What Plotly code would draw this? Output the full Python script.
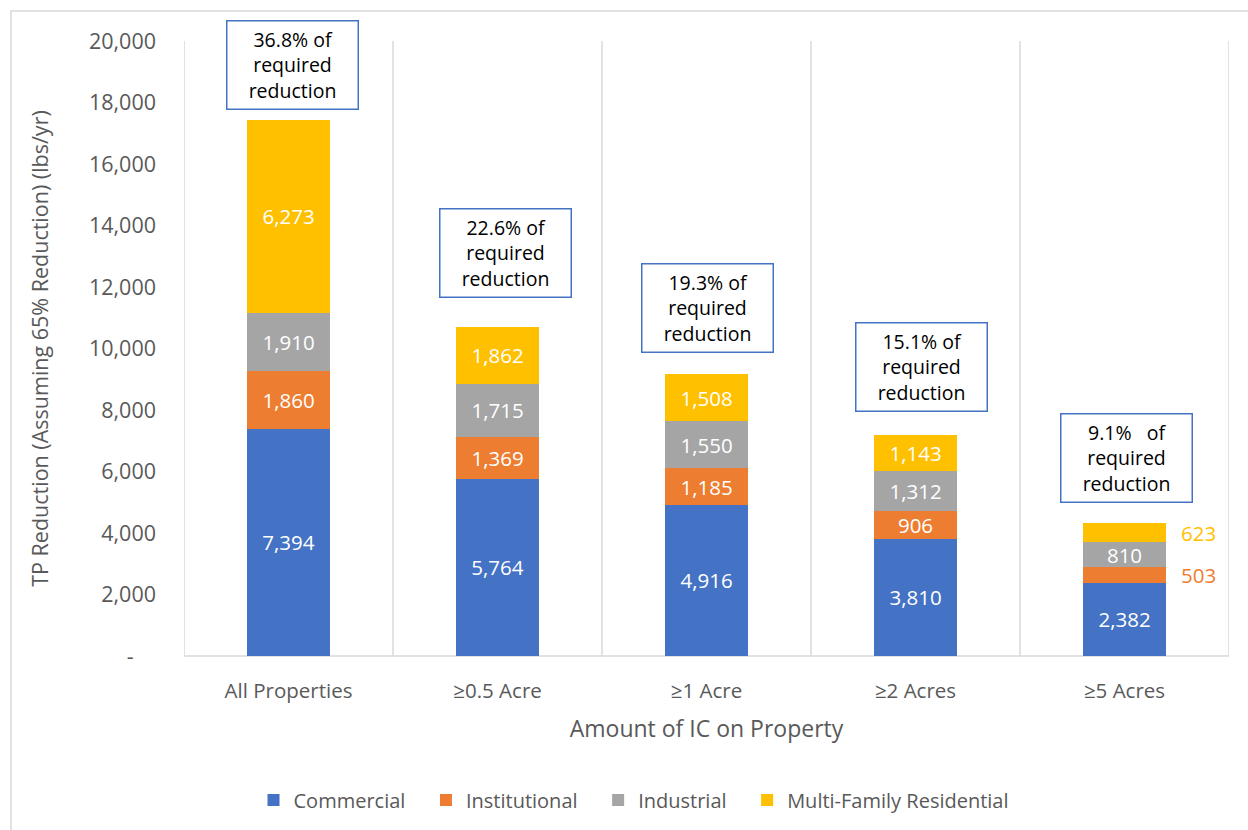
import plotly.graph_objects as go

categories = ["All Properties", "≥0.5 Acre", "≥1 Acre", "≥2 Acres", "≥5 Acres"]
commercial = [7394, 5764, 4916, 3810, 2382]
institutional = [1860, 1369, 1185, 906, 503]
industrial = [1910, 1715, 1550, 1312, 810]
multifamily = [6273, 1862, 1508, 1143, 623]
pct_labels = ["36.8% of<br>required<br>reduction", "22.6% of<br>required<br>reduction",
              "19.3% of<br>required<br>reduction", "15.1% of<br>required<br>reduction",
              "9.1%   of<br>required<br>reduction"]
y_ticks = [0, 2000, 4000, 6000, 8000, 10000, 12000, 14000, 16000, 18000, 20000]
y_ticktext = ["-\u00a0\u00a0\u00a0\u00a0"] + [f"{v:,}" for v in y_ticks[1:]]

series = [
    ("Commercial", commercial, "#4472C4"),
    ("Institutional", institutional, "#ED7D31"),
    ("Industrial", industrial, "#A5A5A5"),
    ("Multi-Family Residential", multifamily, "#FFC000"),
]
# labels drawn outside the bar (last category) for these series
outside = {"Institutional": 4, "Multi-Family Residential": 4}

W, H = 1248, 830
L, R, T, B = 184, 19, 41, 173
FONT = "Open Sans"
GREY = "#595959"
PAD = "\u00a0" * 3

fig = go.Figure()
for idx, (name, vals, color) in enumerate(series):
    texts = [f"{v:,}" for v in vals]
    if name in outside:
        texts[outside[name]] = ""
    fig.add_trace(go.Bar(
        x=categories, y=vals, name=name + (PAD if idx < len(series) - 1 else ""),
        marker=dict(color=color, line=dict(width=0)),
        text=texts, textposition="inside", insidetextanchor="middle",
        textfont=dict(color="white", size=20.5, family=FONT),
        textangle=0, constraintext="none", width=0.4,
    ))

annotations = []
names = [s[0] for s in series]
for name, vals, color in series:
    if name in outside:
        i = outside[name]
        base = sum(s[1][i] for s in series[:names.index(name)])
        annotations.append(dict(
            x=categories[i], y=base + vals[i] / 2, xref="x", yref="y",
            text=f"{vals[i]:,}", showarrow=False, xshift=74,
            font=dict(color=color, size=20.5, family=FONT)))

totals = [a + b + c + d for a, b, c, d in zip(commercial, institutional, industrial, multifamily)]
gaps = [10, 29, 21, 23, 20]
xshifts = [4, 8, 1, 6, 2]
for i, cat in enumerate(categories):
    annotations.append(dict(
        x=cat, y=totals[i], xref="x", yref="y", yanchor="bottom",
        yshift=gaps[i], xshift=xshifts[i],
        text=pct_labels[i], showarrow=False, align="center",
        font=dict(color="black", size=19.5, family=FONT),
        bordercolor="#4472C4", borderwidth=1.5, borderpad=4,
        bgcolor="white", width=122, height=79))

shapes = []
for k in range(len(categories) + 1):
    shapes.append(dict(type="line", xref="x", yref="paper", x0=k - 0.5, x1=k - 0.5,
                       y0=0, y1=1, line=dict(color="#D9D9D9", width=1.5), layer="below"))
shapes.append(dict(type="line", xref="paper", yref="paper", x0=0, x1=1, y0=0, y1=0,
                   line=dict(color="#D9D9D9", width=1.5), layer="below"))
# chart area border
shapes.append(dict(type="rect", xref="paper", yref="paper",
                   x0=(11 - L) / (W - L - R), x1=(1262 - L) / (W - L - R),
                   y0=-(845 - (H - B)) / (H - T - B), y1=((H - B) - 11) / (H - T - B),
                   line=dict(color="#D9D9D9", width=1.5), layer="below"))

fig.update_layout(
    barmode="stack", width=W, height=H,
    margin=dict(l=L, r=R, t=T, b=B),
    plot_bgcolor="white", paper_bgcolor="white",
    font=dict(family=FONT, color=GREY, size=18),
    xaxis=dict(range=[-0.5, 4.5], showgrid=False, showline=False, zeroline=False,
               tickfont=dict(size=20.5, color=GREY), ticks="", ticklabelstandoff=20,
               title=dict(text="Amount of IC on Property", font=dict(size=23, color=GREY), standoff=18)),
    yaxis=dict(range=[0, 20000], tickvals=y_ticks, ticktext=y_ticktext, showgrid=False,
               showline=False, zeroline=False, ticks="", ticklabelstandoff=27,
               tickfont=dict(size=21.5, color=GREY),
               title=dict(text="TP Reduction (Assuming 65% Reduction) (lbs/yr)",
                          font=dict(size=21.5, color=GREY), standoff=34)),
    legend=dict(orientation="h", x=(634 - L) / (W - L - R), xanchor="center",
                y=-(800 - (H - B)) / (H - T - B), yanchor="middle",
                font=dict(size=20, color=GREY), traceorder="normal",
                itemwidth=30, bgcolor="rgba(0,0,0,0)"),
    bargap=0.6, annotations=annotations, shapes=shapes, showlegend=True,
)
fig.write_html("out.html", config={"displayModeBar": False},
               post_script="document.body.style.margin='0px';")
